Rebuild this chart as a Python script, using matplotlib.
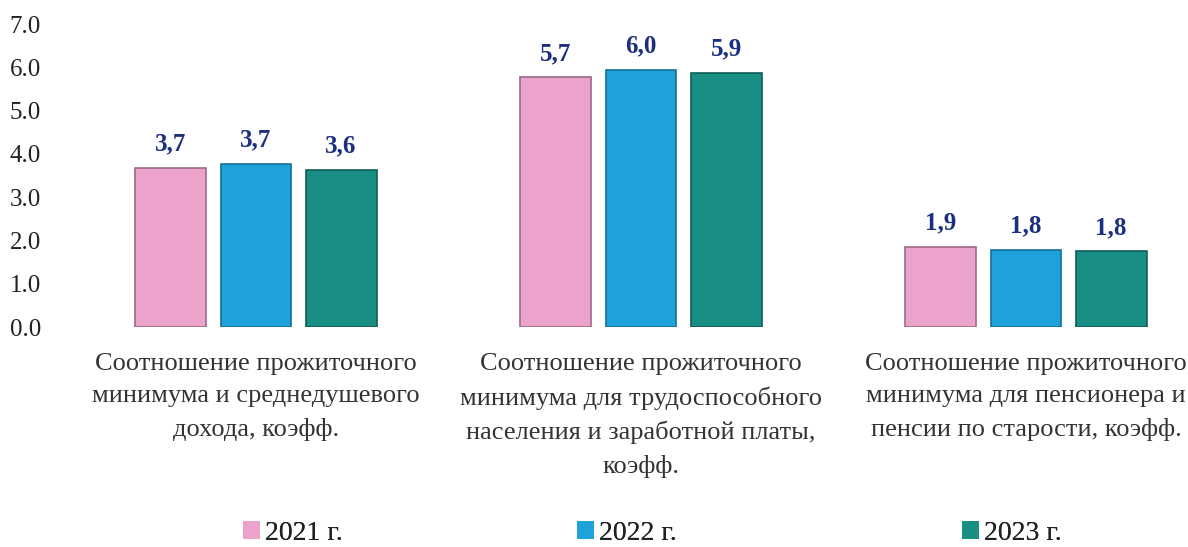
import numpy as np
import matplotlib.pyplot as plt
from matplotlib.patches import Patch

categories = ["Соотношение прожиточного\nминимума и среднедушевого\nдохода, коэфф.",
              "Соотношение прожиточного\nминимума для трудоспособного\nнаселения и заработной платы,\nкоэфф.",
              "Соотношение прожиточного\nминимума для пенсионера и\nпенсии по старости, коэфф."]
years = ["2021 г.", "2022 г.", "2023 г."]
values_2021 = [3.68, 5.77, 1.85]
values_2022 = [3.77, 5.95, 1.78]
values_2023 = [3.63, 5.88, 1.75]
labels_2021 = ["3,7", "5,7", "1,9"]
labels_2022 = ["3,7", "6,0", "1,8"]
labels_2023 = ["3,6", "5,9", "1,8"]
yticks = [0, 1, 2, 3, 4, 5, 6, 7]

colors = ["#EBA3CB", "#1EA2DA", "#198E85"]
edges = ["#9C6A86", "#13709A", "#0F5E58"]

plt.rcParams['font.family'] = ['Liberation Serif', 'DejaVu Serif']

fig = plt.figure(figsize=(11.88, 5.47), dpi=100)
ax = fig.add_axes([45 / 1188, 0.402, 1 - 45 / 1188, 0.554])

x = np.arange(len(categories))
step = 0.221
width = 0.184
series = [values_2021, values_2022, values_2023]
labels = [labels_2021, labels_2022, labels_2023]
for i in range(3):
    pos = x + (i - 1) * step
    ax.bar(pos, series[i], width, color=colors[i], edgecolor=edges[i], linewidth=1.2)
    for p, v, t in zip(pos, series[i], labels[i]):
        ax.text(p, v + 0.55, t, ha="center", va="center", fontsize=18,
                fontweight="bold", color="#1B2F80")

ax.set_xlim((45 - 256) / 385, (1188 - 256) / 385)
ax.set_ylim(0, 7)
ax.set_yticks(yticks)
ax.set_yticklabels([f"{t:.1f}" for t in yticks], fontsize=18, color="#222222")
ax.tick_params(axis="y", length=0, pad=3)
ax.set_xticks([])
for s in ax.spines.values():
    s.set_visible(False)

for xi, c in zip(x, categories):
    ax.text(xi, -0.6, c, ha="center", va="top", fontsize=19, color="#333333",
            linespacing=1.6)

legend_x = [243, 577, 962]
for i in range(3):
    lg = fig.legend([Patch(facecolor=colors[i], edgecolor="none")], [years[i]],
                    loc="center left", bbox_to_anchor=(legend_x[i] / 1188, 0.025),
                    frameon=False, fontsize=20, handlelength=0.6, handleheight=0.6,
                    handletextpad=0.2, borderpad=0, borderaxespad=0,
                    labelcolor="#222222")
    fig.add_artist(lg)

fig.savefig("out.png", dpi=100)
